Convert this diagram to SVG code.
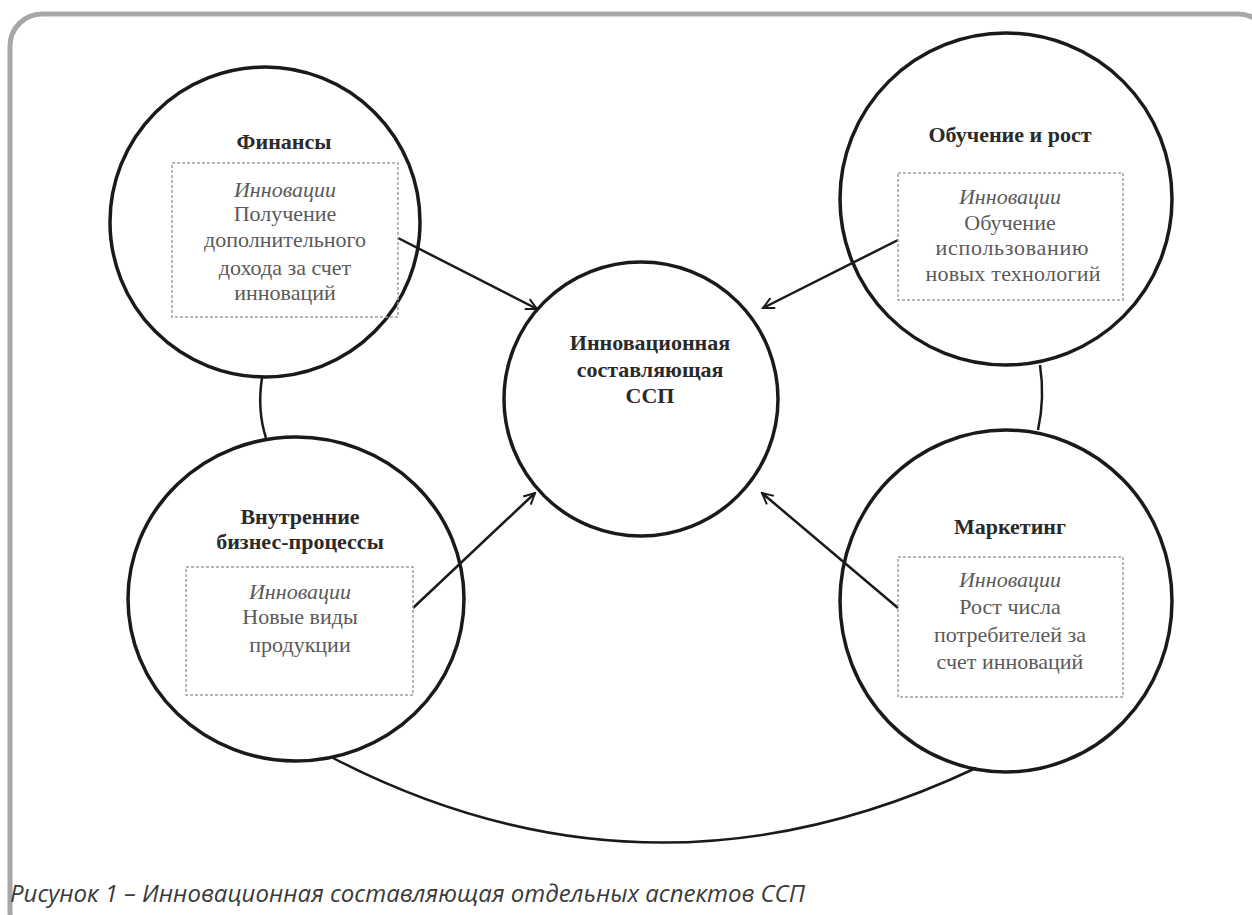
<svg xmlns="http://www.w3.org/2000/svg" width="1252" height="915" viewBox="0 0 1252 915">
<defs>
<marker id="arr" markerUnits="userSpaceOnUse" markerWidth="14" markerHeight="14" refX="12" refY="7" orient="auto">
<path d="M1,1.5 L12,7 L1,12.5" fill="none" stroke="#1a1a1a" stroke-width="2"/>
</marker>
<style>
.ring{fill:none;stroke:#1a1a1a;stroke-width:3.5}
.box{fill:none;stroke:#a0a0a0;stroke-width:1.5;stroke-dasharray:3 2}
.ttl{font-family:"Liberation Serif",serif;font-weight:bold;font-size:22px;fill:#2a2a2a;text-anchor:middle}
.txt{font-family:"Liberation Serif",serif;font-size:22px;fill:#5a5a5a;text-anchor:middle}
.it{font-style:italic}
.con{fill:none;stroke:#1a1a1a;stroke-width:2.5}
.cap{font-family:"Open Sans",sans-serif;font-style:italic;font-size:24px;fill:#3a3a3a}
</style>
</defs>
<rect x="10" y="14" width="1260" height="930" rx="32" fill="#fff" stroke="#a7a7a9" stroke-width="5"/>

<g id="connectors">
<path class="con" d="M262,378 Q257,410 266,438"/>
<path class="con" d="M1040,365 Q1045,398 1038,430"/>
<path class="con" d="M333,758 Q650,922 976,768"/>
<path class="con" d="M398,238 L537,309" marker-end="url(#arr)"/>
<path class="con" d="M898,240 L763,308" marker-end="url(#arr)"/>
<path class="con" d="M413,608 L535,493" marker-end="url(#arr)"/>
<path class="con" d="M898,608 L762,493" marker-end="url(#arr)"/>
</g>

<g id="center">
<circle class="ring" cx="641" cy="399" r="137"/>
<text class="ttl" x="650" y="350" font-size="24">Инновационная</text>
<text class="ttl" x="650" y="377" font-size="23">составляющая</text>
<text class="ttl" x="650" y="403" font-size="23">ССП</text>
</g>

<g id="finance">
<circle class="ring" cx="265" cy="222" r="155"/>
<text class="ttl" x="284" y="149">Финансы</text>
<rect class="box" x="172" y="163" width="226" height="154"/>
<text class="txt it" x="285" y="197">Инновации</text>
<text class="txt" x="285" y="221">Получение</text>
<text class="txt" x="285" y="247">дополнительного</text>
<text class="txt" x="285" y="275">дохода за счет</text>
<text class="txt" x="285" y="300">инноваций</text>
</g>

<g id="learning">
<circle class="ring" cx="1006" cy="199" r="166"/>
<text class="ttl" x="1010" y="142">Обучение и рост</text>
<rect class="box" x="898" y="173" width="225" height="127"/>
<text class="txt it" x="1010" y="204">Инновации</text>
<text class="txt" x="1010" y="230">Обучение</text>
<text class="txt" x="1012" y="255" font-size="18" textLength="153" lengthAdjust="spacing">использованию</text>
<text class="txt" x="1013" y="281" font-size="19" textLength="175" lengthAdjust="spacing">новых технологий</text>
</g>

<g id="internal">
<ellipse class="ring" cx="296" cy="599" rx="168" ry="162"/>
<text class="ttl" x="300" y="524">Внутренние</text>
<text class="ttl" x="300" y="549">бизнес-процессы</text>
<rect class="box" x="186" y="567" width="227" height="128"/>
<text class="txt it" x="300" y="599">Инновации</text>
<text class="txt" x="300" y="624">Новые виды</text>
<text class="txt" x="300" y="652">продукции</text>
</g>

<g id="marketing">
<ellipse class="ring" cx="1006" cy="601" rx="166" ry="171"/>
<text class="ttl" x="1010" y="534">Маркетинг</text>
<rect class="box" x="898" y="557" width="225" height="140"/>
<text class="txt it" x="1010" y="587">Инновации</text>
<text class="txt" x="1010" y="614">Рост числа</text>
<text class="txt" x="1010" y="642">потребителей за</text>
<text class="txt" x="1010" y="669">счет инноваций</text>
</g>

<text class="cap" x="10" y="902" textLength="795" lengthAdjust="spacingAndGlyphs">Рисунок 1 – Инновационная составляющая отдельных аспектов ССП</text>
</svg>
